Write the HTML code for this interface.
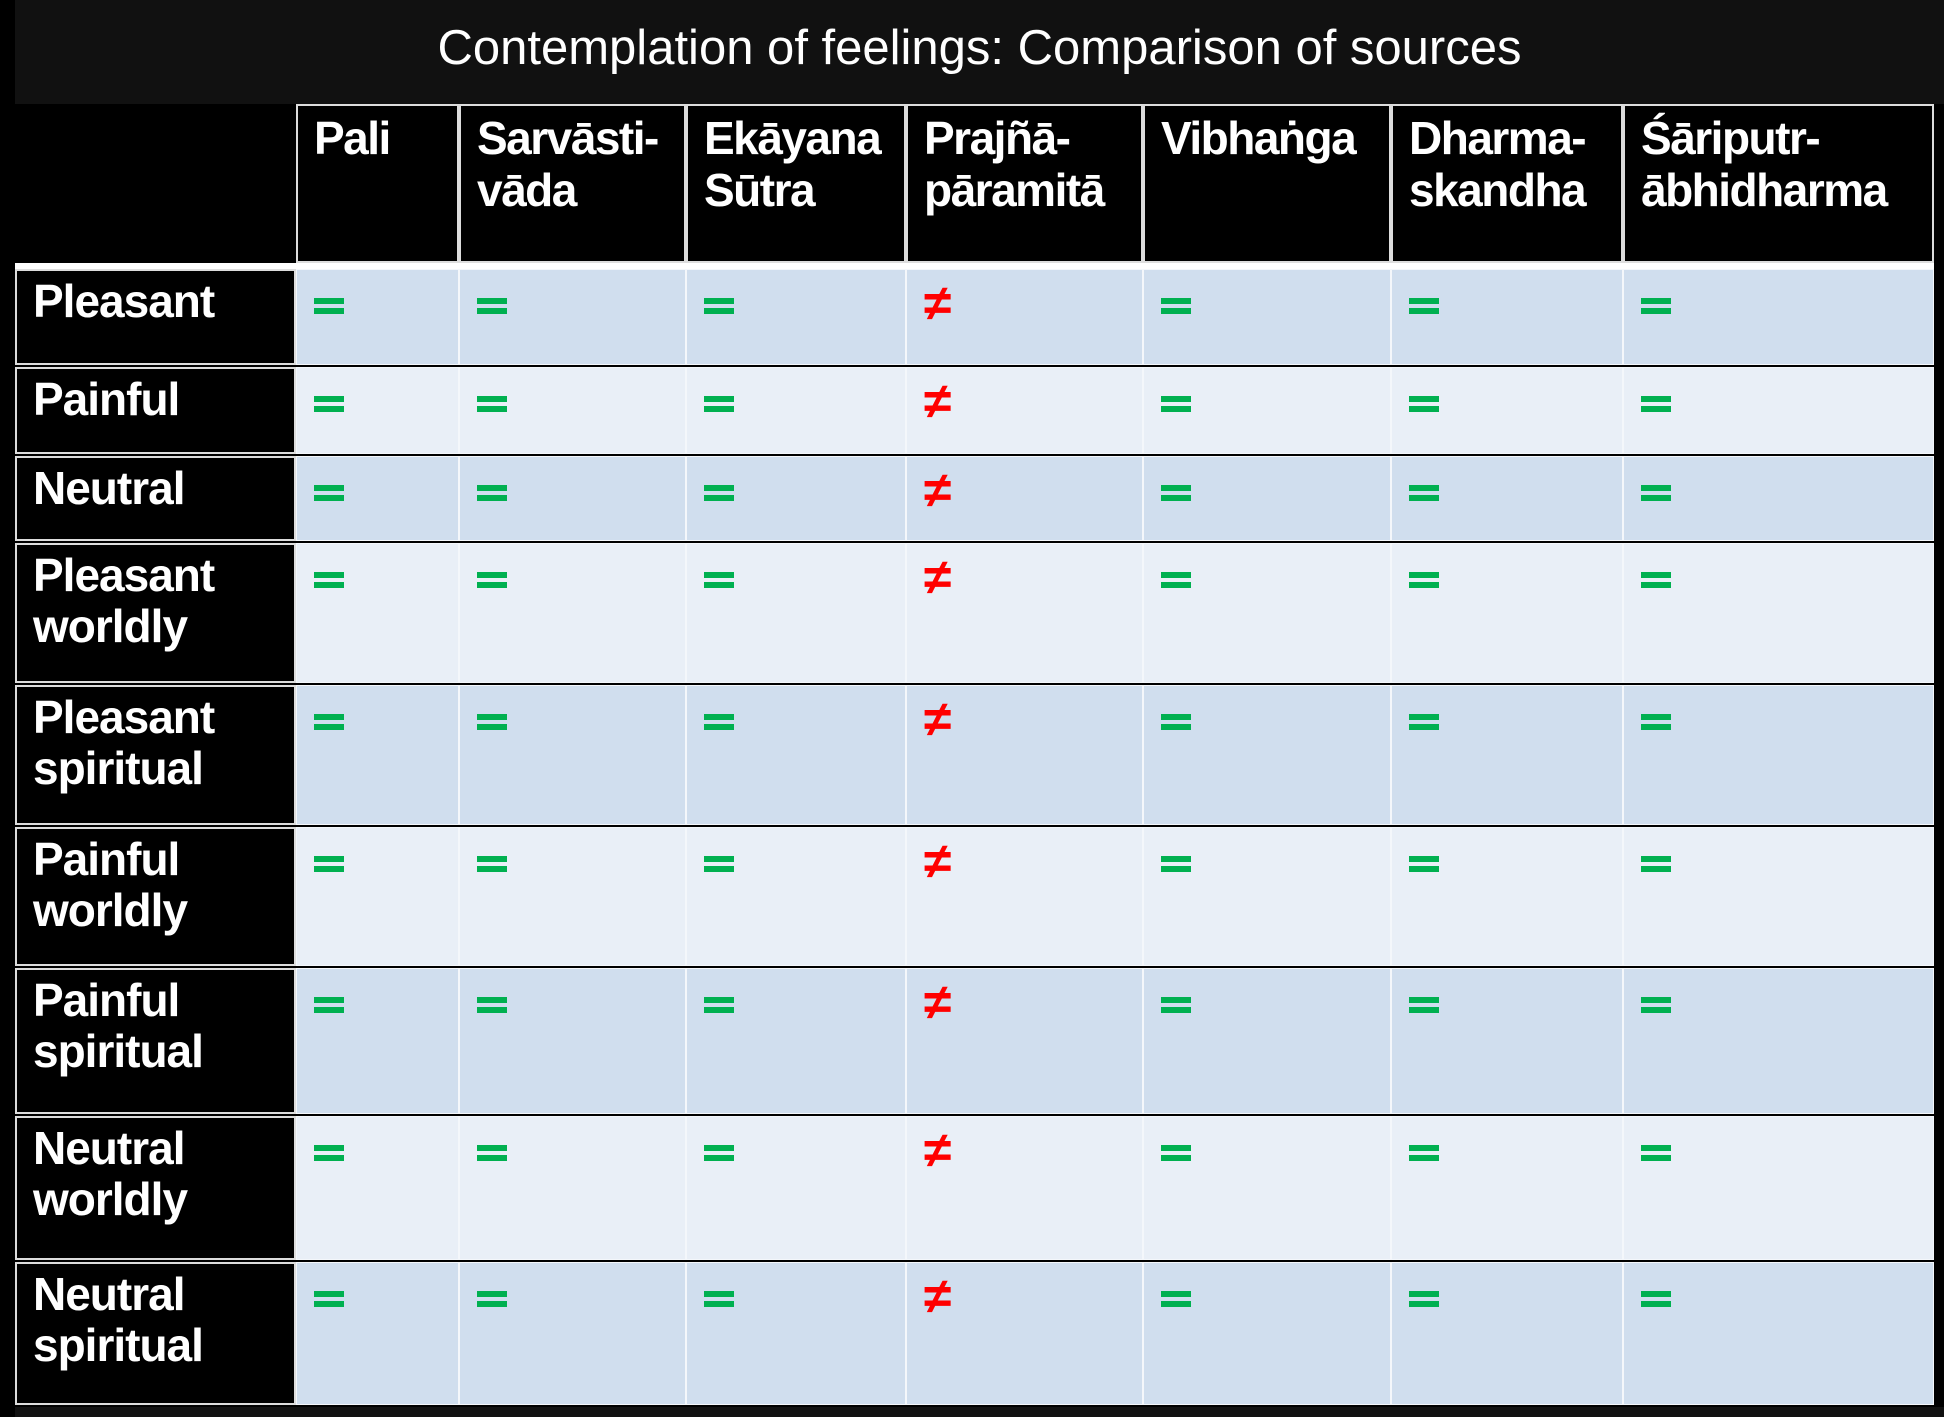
<!DOCTYPE html>
<html><head><meta charset="utf-8">
<style>
html,body{margin:0;padding:0;}
body{width:1944px;height:1417px;background:#000;position:relative;overflow:hidden;font-family:"Liberation Sans",sans-serif;}
#title{position:absolute;left:15px;top:0;width:1929px;height:104px;background:#111;color:#fff;font-size:49px;text-align:center;line-height:96px;}
#bottom{position:absolute;left:15px;top:1407px;width:1929px;height:10px;background:#111;}
.cell{position:absolute;box-sizing:border-box;}
.hdr{background:#000;border:2px solid #ddd;color:#fff;font-weight:bold;font-size:46px;line-height:52px;padding:6px 0 0 16px;letter-spacing:-1.5px;white-space:nowrap;}
.lbl{background:#000;border:2px solid #ddd;color:#fff;font-weight:bold;font-size:46px;line-height:51px;padding:5px 0 0 16px;letter-spacing:-1px;}
.val{border:1px solid #f4f7fb;}
.eq{position:absolute;left:17px;top:28px;width:30px;height:16px;}
.eq:before,.eq:after{content:"";position:absolute;left:0;width:30px;height:6px;background:#00B050;}
.eq:before{top:0}.eq:after{top:10px}
.ne{position:absolute;left:17px;top:8px;color:#f00;font-weight:bold;font-size:50px;line-height:50px;}
</style></head>
<body>
<div id="title">Contemplation of feelings: Comparison of sources</div>
<div id="table"></div>
<div id="bottom"></div>
<script>
const columns = ["Pali","Sarvāsti-<br>vāda","Ekāyana<br>Sūtra","Prajñā-<br>pāramitā","Vibhaṅga","Dharma-<br>skandha","Śāriputr-<br>ābhidharma"];
const rowsLabels = ["Pleasant","Painful","Neutral","Pleasant<br>worldly","Pleasant<br>spiritual","Painful<br>worldly","Painful<br>spiritual","Neutral<br>worldly","Neutral<br>spiritual"];
const matches = [
 [1,1,1,0,1,1,1],[1,1,1,0,1,1,1],[1,1,1,0,1,1,1],
 [1,1,1,0,1,1,1],[1,1,1,0,1,1,1],[1,1,1,0,1,1,1],
 [1,1,1,0,1,1,1],[1,1,1,0,1,1,1],[1,1,1,0,1,1,1]];
const colX = [15,296,459,686,906,1143,1391,1623,1934];
const rowY = [104,267,365,454,541,683,825,966,1114,1260,1405];
const t = document.getElementById('table');
function mk(cls,x,y,w,h){const d=document.createElement('div');d.className='cell '+cls;d.style.left=x+'px';d.style.top=y+'px';d.style.width=w+'px';d.style.height=h+'px';t.appendChild(d);return d;}
const corner = mk('hdr',colX[0],rowY[0],colX[1]-colX[0],rowY[1]-rowY[0]);
corner.style.border='none';


columns.forEach((c,i)=>{
  const d=mk('hdr',colX[i+1],rowY[0],colX[i+2]-colX[i+1],rowY[1]-rowY[0]-4);
  d.innerHTML=c;
  
  
});
const sep=mk('',colX[0],rowY[1]-4,colX[8]-colX[0],6);sep.style.background='#fff';


rowsLabels.forEach((r,i)=>{
  const y=rowY[i+1]+2, h=rowY[i+2]-rowY[i+1]-2;
  const l=mk('lbl',colX[0],y,colX[1]-colX[0],h);
  l.innerHTML=r;
  
  
  matches[i].forEach((v,j)=>{
    const c=mk('val',colX[j+1],y,colX[j+2]-colX[j+1],h);
    c.style.background = i%2===0 ? '#D0DEEE' : '#E9EFF7';
    
    
    const s=document.createElement('div');
    if(v){s.className='eq';}else{s.className='ne';s.textContent='≠';}
    
    
    c.appendChild(s);
  });
});
</script>
</body></html>
